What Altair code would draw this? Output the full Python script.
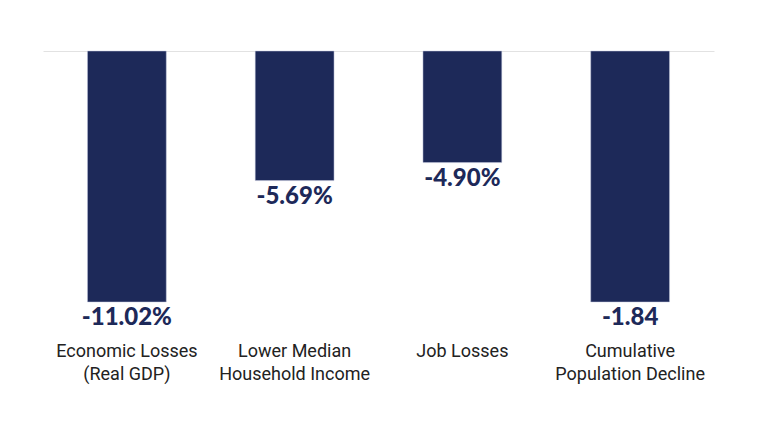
import altair as alt
import pandas as pd

categories = [
    "Economic Losses\n(Real GDP)",
    "Lower Median\nHousehold Income",
    "Job Losses",
    "Cumulative\nPopulation Decline",
]
# plotted bar lengths (the last bar is drawn on its own scale, equal in length to the first)
bar_values = [-11.02, -5.69, -4.90, -11.02]
value_labels = ["-11.02%", "-5.69%", "-4.90%", "-1.84"]

df = pd.DataFrame({"cat": categories, "val": bar_values, "lab": value_labels})

navy = "#1d2959"

x = alt.X(
    "cat:N",
    sort=categories,
    scale=alt.Scale(paddingInner=0.53, paddingOuter=0.265),
    axis=alt.Axis(
        title=None,
        domain=False,
        ticks=False,
        grid=False,
        labelAngle=0,
        labelExpr="split(datum.label, '\\n')",
        labelFont="Roboto",
        labelFontSize=18,
        labelLineHeight=23,
        labelColor="#222222",
        labelPadding=40,
        labelBaseline="top",
        labelLimit=300,
    ),
)
y = alt.Y(
    "val:Q",
    scale=alt.Scale(domain=[-11.02, 0], nice=False, zero=True),
    axis=alt.Axis(
        title=None,
        values=[0],
        grid=True,
        gridColor="#e2e2e2",
        gridWidth=1,
        domain=False,
        ticks=False,
        labels=False,
    ),
)

bars = alt.Chart(df).mark_bar(color=navy, stroke="#c9cde0", strokeWidth=0.5).encode(x=x, y=y)

text = alt.Chart(df).mark_text(
    font="Lato",
    fontWeight=900,
    fontSize=24,
    color=navy,
    baseline="middle",
    dy=16,
).encode(x=alt.X("cat:N", sort=categories), y="val:Q", text="lab:N")

chart = (
    alt.layer(bars, text)
    .properties(
        width=671,
        height=251,
        background="white",
        autosize=alt.AutoSizeParams(type="none"),
        padding={"left": 43, "top": 51, "right": 54, "bottom": 134},
    )
    .configure_view(strokeWidth=0, strokeOpacity=0)
)

chart.save("out.html", embed_options={"renderer": "svg", "actions": False})
